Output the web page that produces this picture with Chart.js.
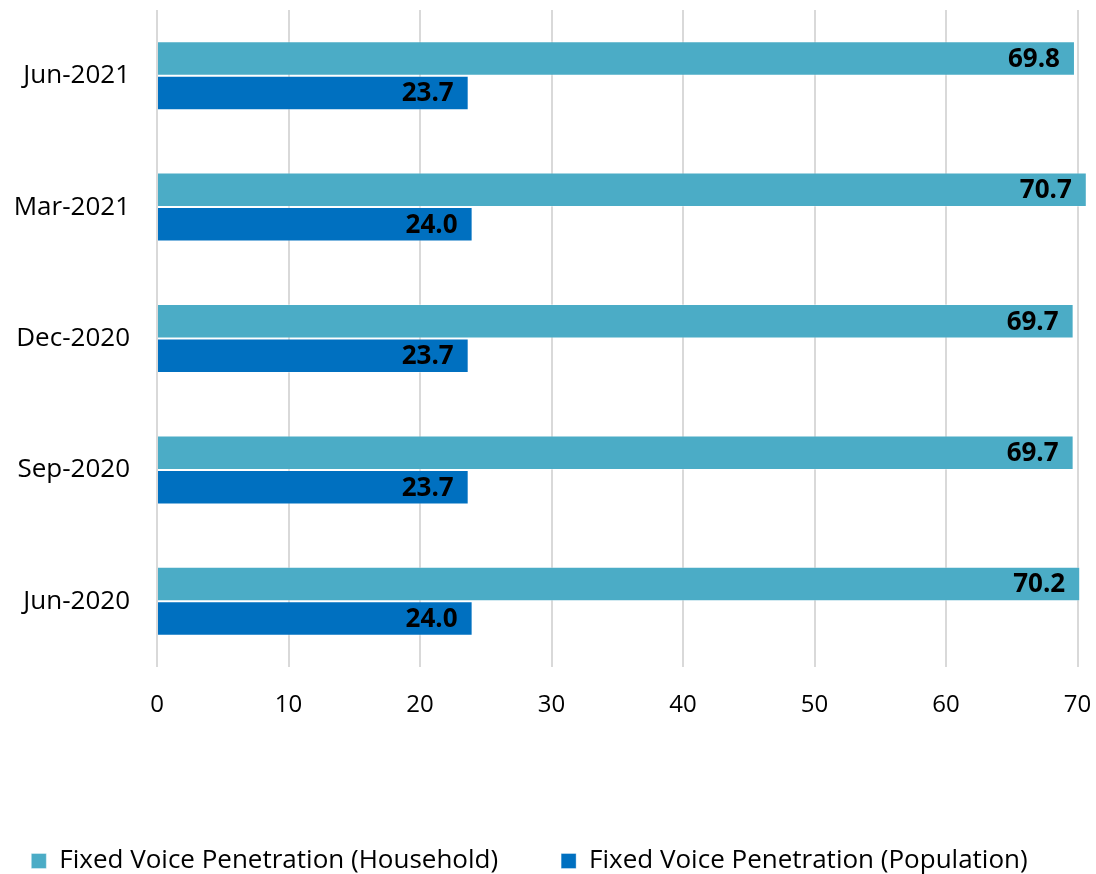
<!DOCTYPE html>
<html>
<head>
<meta charset="utf-8">
<script src="https://cdn.jsdelivr.net/npm/chart.js@4.4.0/dist/chart.umd.min.js"></script>
<style>
  html, body { margin: 0; padding: 0; background: #fff; }
  #wrap { width: 1096px; height: 874px; }
</style>
</head>
<body>
<div id="wrap"><canvas id="penChart" width="1096" height="874"></canvas></div>
<script>
// quarters, top to bottom
const periods = ['Jun-2021', 'Mar-2021', 'Dec-2020', 'Sep-2020', 'Jun-2020'];
const household = [69.8, 70.7, 69.7, 69.7, 70.2];
const population = [23.7, 24.0, 23.7, 23.7, 24.0];
const xTicks = [0, 10, 20, 30, 40, 50, 60, 70];

const FONT = '"Open Sans", "Noto Sans", sans-serif';

// value labels at the inner end of every bar
const barValues = {
  id: 'barValues',
  afterDatasetsDraw(chart) {
    const ctx = chart.ctx;
    ctx.save();
    ctx.font = 'bold 26px ' + FONT;
    ctx.fillStyle = '#000';
    ctx.textAlign = 'right';
    ctx.textBaseline = 'middle';
    chart.data.datasets.forEach((ds, i) => {
      chart.getDatasetMeta(i).data.forEach((bar, j) => {
        ctx.fillText(ds.data[j].toFixed(1), bar.x - 15, bar.y + 1);
      });
    });
    ctx.restore();
  }
};

// drop the label overhang padding so the plot area runs edge to edge
const noOverhang = s => { s.paddingTop = 0; s.paddingBottom = 0; s.paddingLeft = 0; s.paddingRight = 0; };

new Chart(document.getElementById('penChart'), {
  type: 'bar',
  data: {
    labels: periods,
    datasets: [
      { label: 'Fixed Voice Penetration (Household)', data: household,
        backgroundColor: '#4BACC6', borderColor: 'rgba(255,255,255,0.35)', borderWidth: 1 },
      { label: 'Fixed Voice Penetration (Population)', data: population,
        backgroundColor: '#0070C0', borderColor: 'rgba(255,255,255,0.35)', borderWidth: 1 }
    ]
  },
  options: {
    indexAxis: 'y',
    responsive: false,
    animation: false,
    datasets: { bar: { categoryPercentage: 0.525, barPercentage: 1.0 } },
    // negative sides widen the legend row so both entries sit on one line
    layout: { padding: { top: 10, right: -13, bottom: -10, left: -50 } },
    scales: {
      x: {
        min: 0, max: 71.4,
        afterBuildTicks: s => { s.ticks = xTicks.map(v => ({ value: v })); },
        afterFit: s => { s.height = 118; noOverhang(s); },
        grid: { color: '#d9d9d9', lineWidth: 2, drawTicks: false },
        border: { display: false },
        ticks: { color: '#000', padding: 24, font: { family: FONT, size: 24 } }
      },
      y: {
        afterFit: s => { s.width = 207; noOverhang(s); },
        grid: { display: false, drawTicks: false },
        border: { display: false },
        ticks: { color: '#000', padding: 27, font: { family: FONT, size: 26 } }
      }
    },
    plugins: {
      legend: {
        position: 'bottom',
        labels: {
          boxWidth: 15, boxHeight: 15, padding: 63, color: '#000',
          font: { family: FONT, size: 26 }
        }
      },
      tooltip: { enabled: false }
    }
  },
  plugins: [barValues]
});
</script>
</body>
</html>
